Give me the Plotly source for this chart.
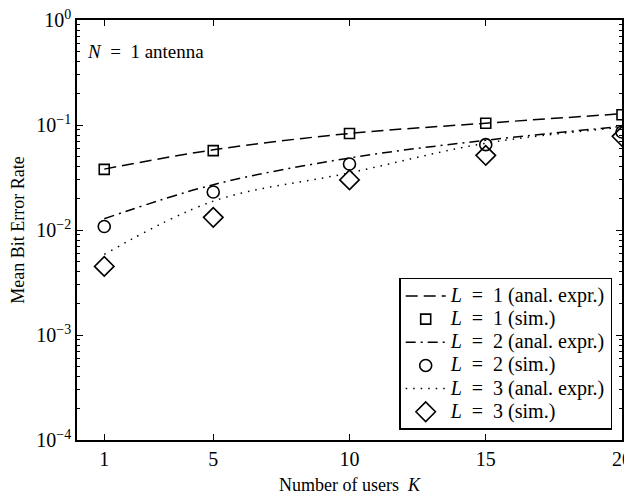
import plotly.graph_objects as go

K = [1, 5, 10, 15, 20]
l1_anal = [0.038, 0.058, 0.083, 0.104, 0.128]
l1_sim = [0.0378, 0.057, 0.083, 0.104, 0.125]
l2_anal = [0.0128, 0.027, 0.0485, 0.0715, 0.097]
l2_sim = [0.0108, 0.023, 0.0425, 0.065, 0.0858]
l3_anal = [0.00585, 0.0188, 0.035, 0.067, 0.095]
l3_sim = [0.0045, 0.0132, 0.030, 0.0514, 0.078]

ytickvals = [1e-4, 1e-3, 1e-2, 1e-1, 1]
yticktext = ["10<sup>−4</sup>", "10<sup>−3</sup>", "10<sup>−2</sup>", "10<sup>−1</sup>", "10<sup>0</sup>"]
xtickvals = [1, 5, 10, 15, 20]
yminor = [m * 10.0 ** e for e in range(-4, 0) for m in range(2, 10)]

FONT = "Liberation Serif, Times New Roman, serif"
EQ = "\u2002=\u2002"
fig = go.Figure()

def lbl(s):
    return f'<span style="font-size:20px">{s}</span>'

def line(y, dash, name):
    fig.add_trace(go.Scatter(x=K, y=y, mode="lines", name=lbl(name),
                             line=dict(color="black", width=1.5, dash=dash, shape="spline")))

def marks(y, symbol, size, name):
    fig.add_trace(go.Scatter(x=K, y=y, mode="markers", name=lbl(name),
                             marker=dict(symbol=symbol, size=size, color="black",
                                         line=dict(color="black", width=1.6))))

line(l1_anal, "12px,6px", f"<i>L</i>{EQ}1 (anal. expr.)")
marks(l1_sim, "square-open", 10, f"<i>L</i>{EQ}1 (sim.)")
line(l2_anal, "10px,5px,2px,5px", f"<i>L</i>{EQ}2 (anal. expr.)")
marks(l2_sim, "circle-open", 12, f"<i>L</i>{EQ}2 (sim.)")
line(l3_anal, "1.5px,6px", f"<i>L</i>{EQ}3 (anal. expr.)")
marks(l3_sim, "diamond-open", 15, f"<i>L</i>{EQ}3 (sim.)")

axis_common = dict(showgrid=False, zeroline=False, showline=True, linecolor="black", linewidth=1.5,
                   mirror="ticks", ticks="inside", tickcolor="black", ticklen=6, tickwidth=1,
                   automargin=False, ticklabeloverflow="allow",
                   tickfont=dict(family=FONT, size=20, color="black"))

fig.update_xaxes(range=[0, 20], tickvals=xtickvals, **axis_common,
                 title=dict(text="Number of users  <i>K</i>", font=dict(family=FONT, size=18, color="black"),
                            standoff=10))
fig.update_yaxes(type="log", range=[-4, 0], tickvals=ytickvals, ticktext=yticktext, **axis_common,
                 minor=dict(tickvals=yminor, ticks="inside", ticklen=3, tickcolor="black", tickwidth=1, showgrid=False),
                 title=dict(text="Mean Bit Error Rate", font=dict(family=FONT, size=18, color="black"),
                            standoff=10))

fig.add_annotation(x=0.015, y=0.925, xref="paper", yref="paper", xanchor="left", yanchor="middle",
                   text=f"<i>N</i>{EQ}1 antenna", showarrow=False,
                   font=dict(family=FONT, size=19, color="black"))

fig.update_layout(width=624, height=490, margin=dict(l=69, r=10, t=12, b=58),
                  plot_bgcolor="white", paper_bgcolor="white",
                  legend=dict(x=0.982, y=0.024, xanchor="right", yanchor="bottom",
                              bordercolor="black", borderwidth=1.5, bgcolor="white",
                              font=dict(family=FONT, size=15.5, color="black"),
                              tracegroupgap=0, itemwidth=40))

fig.write_html("out.html")
